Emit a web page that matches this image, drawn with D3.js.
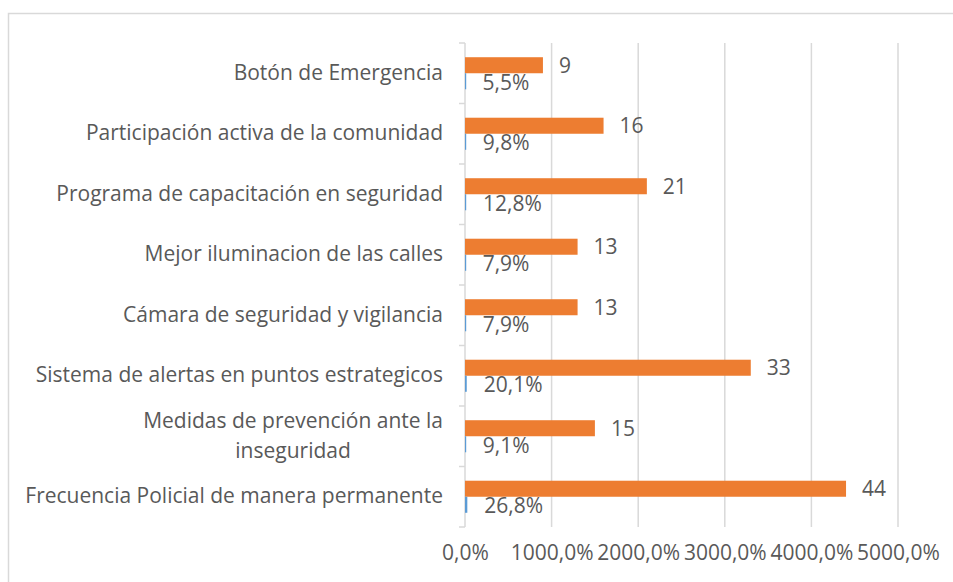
<!DOCTYPE html>
<meta charset="utf-8">
<style>
body { margin: 0; background: #fff; }
text { font-family: "Open Sans", sans-serif; fill: #595959; }
.grid line { stroke: #d9d9d9; stroke-width: 1.5; }
</style>
<svg width="953" height="582"></svg>
<script src="https://d3js.org/d3.v7.min.js"></script>
<script>

// categories top to bottom
var categories = [
  "Botón de Emergencia",
  "Participación activa de la comunidad",
  "Programa de capacitación en seguridad",
  "Mejor iluminacion de las calles",
  "Cámara de seguridad y vigilancia",
  "Sistema de alertas en puntos estrategicos",
  "Medidas de prevención ante la|inseguridad",
  "Frecuencia Policial de manera permanente"
];
var counts = [9, 16, 21, 13, 13, 33, 15, 44];
var percents = [0.055, 0.098, 0.128, 0.079, 0.079, 0.201, 0.091, 0.268];
var xTicks = [0, 10, 20, 30, 40, 50];

var fontSize = "21px";

var svg = d3.select("svg"),
    margin = {top: 43, right: 55, bottom: 55, left: 465},
    width = +svg.attr("width") - margin.left - margin.right,
    height = +svg.attr("height") - margin.top - margin.bottom;

// outer chart border
svg.append("rect")
    .attr("x", 8.5).attr("y", 13.5)
    .attr("width", 960).attr("height", 600)
    .attr("fill", "none")
    .attr("stroke", "#d9d9d9")
    .attr("stroke-width", 1.5);

var data = categories.map(function(c, i) {
  return {cat: c, count: counts[i], pct: percents[i]};
});

var x = d3.scaleLinear().domain([0, 50]).range([0, width]),
    y = d3.scaleBand().domain(categories).range([0, height]).paddingInner(0.47).paddingOuter(0.235),
    y1 = d3.scaleBand().domain(["count", "pct"]).range([0, y.bandwidth()]);

var g = svg.append("g")
    .attr("transform", "translate(" + margin.left + "," + margin.top + ")");

// vertical gridlines
g.append("g")
    .attr("class", "grid")
    .selectAll("line")
    .data(xTicks)
    .enter().append("line")
      .attr("x1", function(d) { return x(d); })
      .attr("x2", function(d) { return x(d); })
      .attr("y1", 0)
      .attr("y2", height);

// category tick marks between bands
var bounds = d3.range(categories.length + 1).map(function(i) { return i * y.step(); });
g.append("g")
    .selectAll("line")
    .data(bounds)
    .enter().append("line")
      .attr("x1", -6).attr("x2", 0)
      .attr("y1", function(d) { return d; })
      .attr("y2", function(d) { return d; })
      .attr("stroke", "#d9d9d9")
      .attr("stroke-width", 1.5);

// x axis labels
var xAxis = g.append("g")
    .attr("transform", "translate(0," + height + ")")
    .call(d3.axisBottom(x).tickValues(xTicks).tickSize(0).tickPadding(18)
      .tickFormat(function(d) { return (d * 100).toFixed(1).replace(".", ",") + "%"; }));
xAxis.select(".domain").remove();
xAxis.selectAll("text")
    .attr("fill", "#595959")
    .style("font-family", "'Open Sans', sans-serif")
    .style("font-size", fontSize);

// y axis labels
var yAxis = g.append("g")
    .call(d3.axisLeft(y).tickSize(0).tickPadding(22));
yAxis.select(".domain").remove();
yAxis.selectAll("text")
    .attr("fill", "#595959")
    .style("font-family", "'Open Sans', sans-serif")
    .style("font-size", fontSize)
    .each(function(d) {
      var parts = d.split("|");
      if (parts.length < 2) return;
      var t = d3.select(this).text(null).attr("text-anchor", "middle");
      parts.forEach(function(p, i) {
        t.append("tspan")
          .attr("x", 0)
          .attr("dy", i === 0 ? "-0.38em" : "1.4em")
          .text(p);
      });
      // center the block, then align right edge with the other labels
      var bb = this.getBBox();
      t.selectAll("tspan").attr("x", -22 - bb.width / 2);
    });

// orange bars (counts shown on percent axis)
g.selectAll(".bar-count")
    .data(data)
    .enter().append("rect")
      .attr("class", "bar-count")
      .attr("x", x(0))
      .attr("y", function(d) { return y(d.cat) + y1("count"); })
      .attr("width", function(d) { return x(d.count) - x(0); })
      .attr("height", y1.bandwidth())
      .attr("fill", "#ed7d31");

// blue bars (percent)
g.selectAll(".bar-pct")
    .data(data)
    .enter().append("rect")
      .attr("class", "bar-pct")
      .attr("x", x(0))
      .attr("y", function(d) { return y(d.cat) + y1("pct"); })
      .attr("width", function(d) { return Math.max(1.2, x(d.pct) - x(0)); })
      .attr("height", y1.bandwidth())
      .attr("fill", "#5b9bd5");

// count labels
g.selectAll(".lbl-count")
    .data(data)
    .enter().append("text")
      .attr("x", function(d) { return x(d.count) + 16; })
      .attr("y", function(d) { return y(d.cat) + y1("count") + y1.bandwidth() / 2; })
      .attr("dy", "0.35em")
      .style("font-size", fontSize)
      .text(function(d) { return d.count; });

// percent labels
g.selectAll(".lbl-pct")
    .data(data)
    .enter().append("text")
      .attr("x", function(d) { return x(d.pct) + 17; })
      .attr("y", function(d) { return y(d.cat) + y1("pct") + y1.bandwidth() / 2 + 1; })
      .attr("dy", "0.35em")
      .style("font-size", fontSize)
      .text(function(d) { return (d.pct * 100).toFixed(1).replace(".", ",") + "%"; });

</script>
